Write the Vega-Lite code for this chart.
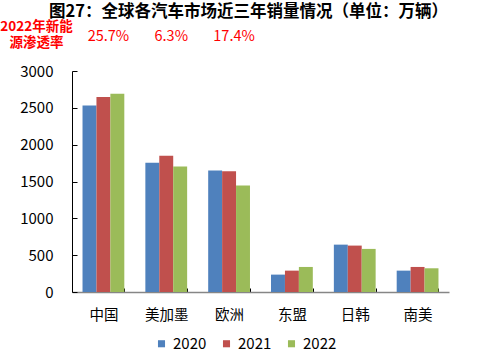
{
  "$schema": "https://vega.github.io/schema/vega-lite/v6.json",
  "autosize": {"type": "none"},
  "padding": {"left": 72, "top": 71, "right": 35, "bottom": 60},
  "width": 377,
  "height": 221,
  "background": "white",
  "config": {
    "font": "Noto Sans CJK SC",
    "view": {"stroke": null},
    "axisY": {
      "titleAngle": 0,
      "titleColor": "#ff0000",
      "titleFontSize": 13.5,
      "titleFontWeight": "bold",
      "titleAlign": "center",
      "titleBaseline": "middle",
      "titleX": -36,
      "titleY": -45,
      "titleLineHeight": 16.5,
      "values": [0, 500, 1000, 1500, 2000, 2500, 3000],
      "format": "d",
      "labelOverlap": false,
      "grid": false,
      "labelFontSize": 15,
      "labelColor": "#000000",
      "labelPadding": 24,
      "tickSize": -5,
      "tickColor": "#000000",
      "domainColor": "#000000"
    }
  },
  "title": {
    "text": "图27：全球各汽车市场近三年销量情况（单位：万辆）",
    "fontSize": 16.5,
    "fontWeight": "bold",
    "color": "#000000",
    "anchor": "middle",
    "frame": "group",
    "offset": -1,
    "dx": -12
  },
  "data": {
    "values": [
      {"region": "中国", "year": "2020", "sales": 2533},
      {"region": "中国", "year": "2021", "sales": 2647},
      {"region": "中国", "year": "2022", "sales": 2692},
      {"region": "美加墨", "year": "2020", "sales": 1754},
      {"region": "美加墨", "year": "2021", "sales": 1849},
      {"region": "美加墨", "year": "2022", "sales": 1704},
      {"region": "欧洲", "year": "2020", "sales": 1650},
      {"region": "欧洲", "year": "2021", "sales": 1640},
      {"region": "欧洲", "year": "2022", "sales": 1446},
      {"region": "东盟", "year": "2020", "sales": 236},
      {"region": "东盟", "year": "2021", "sales": 290},
      {"region": "东盟", "year": "2022", "sales": 340},
      {"region": "日韩", "year": "2020", "sales": 643},
      {"region": "日韩", "year": "2021", "sales": 630},
      {"region": "日韩", "year": "2022", "sales": 585},
      {"region": "南美", "year": "2020", "sales": 290},
      {"region": "南美", "year": "2021", "sales": 340},
      {"region": "南美", "year": "2022", "sales": 322}
    ]
  },
  "layer": [
    {
      "mark": {"type": "bar"},
      "encoding": {
        "x": {
          "field": "region",
          "type": "nominal",
          "sort": ["中国", "美加墨", "欧洲", "东盟", "日韩", "南美"],
          "scale": {"paddingInner": 0.335, "paddingOuter": 0.1675},
          "axis": {
            "title": null,
            "labelAngle": 0,
            "labelFontSize": 14.5,
            "labelColor": "#000000",
            "labelPadding": 20,
            "tickBand": "extent",
            "tickSize": -4,
            "tickColor": "#000000",
            "domainColor": "#868686",
            "domainWidth": 1.5
          }
        },
        "xOffset": {"field": "year", "type": "nominal", "scale": {"padding": 0}},
        "y": {
          "field": "sales",
          "type": "quantitative",
          "scale": {"domain": [0, 3000]},
          "title": ["2022年新能", "源渗透率"]
        },
        "color": {
          "field": "year",
          "type": "nominal",
          "scale": {"range": ["#4F81BD", "#C0504D", "#9BBB59"]},
          "legend": {
            "title": null,
            "orient": "none",
            "legendX": 82,
            "legendY": 265,
            "direction": "horizontal",
            "symbolType": "square",
            "symbolSize": 50,
            "symbolStrokeWidth": 0,
            "labelFontSize": 15,
            "labelColor": "#000000",
            "columnPadding": 12
          }
        }
      }
    },
    {
      "data": {
        "values": [
          {"region": "中国", "rate": "25.7%"},
          {"region": "美加墨", "rate": "6.3%"},
          {"region": "欧洲", "rate": "17.4%"}
        ]
      },
      "mark": {"type": "text", "color": "#ff0000", "fontSize": 14.5, "dx": 5},
      "encoding": {
        "x": {"field": "region", "type": "nominal", "sort": ["中国", "美加墨", "欧洲", "东盟", "日韩", "南美"]},
        "y": {"datum": 3460, "title": ["2022年新能", "源渗透率"]},
        "text": {"field": "rate"}
      }
    }
  ]
}
